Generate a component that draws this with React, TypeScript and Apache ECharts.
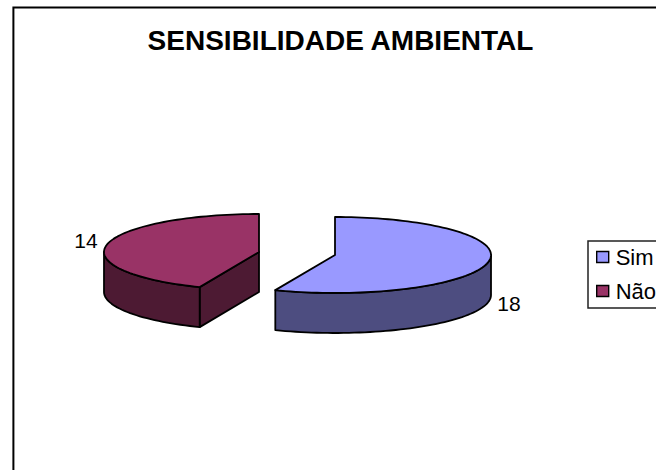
import React, { useEffect, useRef } from "react";
import * as echarts from "echarts";

const titleText = "SENSIBILIDADE AMBIENTAL";
const categories = ["Sim", "Não"];
const values = [18, 14];
const topColors = ["#9999ff", "#993366"];
const sideColors = ["#4d4d80", "#4d1a33"];

const FONT = '"Liberation Sans", Arial, sans-serif';
const RY = 38;
const DEPTH = 40;
const radiiX = [156, 155];
const centers = [
  [335, 255],
  [259, 252],
];
const labelPos = [
  [509, 303.5],
  [86, 240],
];

function point(c: number[], rx: number, deg: number, dy = 0) {
  const r = (deg * Math.PI) / 180;
  return [c[0] + rx * Math.sin(r), c[1] - RY * Math.cos(r) + dy];
}

function arc(c: number[], rx: number, from: number, to: number, dy = 0) {
  const pts: number[][] = [];
  const n = Math.max(2, Math.ceil(Math.abs(to - from) / 2));
  for (let i = 0; i <= n; i++) pts.push(point(c, rx, from + ((to - from) * i) / n, dy));
  return pts;
}

function sliceRenderer(index: number) {
  const total = values.reduce((a, b) => a + b, 0);
  let before = 0;
  for (let i = 0; i < index; i++) before += values[i];
  const start = (before / total) * 360;
  const end = ((before + values[index]) / total) * 360;
  const c = centers[index];
  const rx = radiiX[index];
  const line = { stroke: "#000", lineWidth: 1.8, lineJoin: "round" };
  return () => {
    const children: any[] = [];
    const wall = (pts: number[][]) =>
      children.push({
        type: "polygon",
        shape: { points: pts },
        style: { fill: sideColors[index], ...line },
      });
    if (start > 180 && start < 360) {
      const p = point(c, rx, start);
      wall([c, p, [p[0], p[1] + DEPTH], [c[0], c[1] + DEPTH]]);
    }
    if (end > 0 && end < 180) {
      const p = point(c, rx, end);
      wall([c, p, [p[0], p[1] + DEPTH], [c[0], c[1] + DEPTH]]);
    }
    const from = Math.max(start, 90);
    const to = Math.min(end, 270);
    if (to > from) {
      wall([...arc(c, rx, from, to), ...arc(c, rx, to, from, DEPTH)]);
    }
    children.push({
      type: "polygon",
      shape: { points: [c, ...arc(c, rx, start, end)] },
      style: { fill: topColors[index], ...line },
    });
    children.push({
      type: "text",
      style: {
        x: labelPos[index][0],
        y: labelPos[index][1],
        text: String(values[index]),
        fill: "#000",
        font: `21px ${FONT}`,
        align: "center",
        verticalAlign: "middle",
      },
    });
    return { type: "group", children };
  };
}

export default function App() {
  const ref = useRef<HTMLDivElement>(null);
  useEffect(() => {
    const chart = echarts.init(ref.current!, null, { renderer: "svg" });
    chart.setOption({
      animation: false,
      backgroundColor: "#fff",
      title: {
        text: titleText,
        left: 335.5,
        top: 21,
        textAlign: "center",
        textStyle: { fontFamily: FONT, fontSize: 28, fontWeight: "bold", color: "#000" },
      },
      legend: {
        left: 588,
        top: 241,
        orient: "vertical",
        data: categories,
        icon: "rect",
        itemWidth: 12,
        itemHeight: 11,
        itemGap: 12,
        padding: [5, 30, 6, 8],
        borderColor: "#222",
        borderWidth: 1.5,
        itemStyle: { borderColor: "#000", borderWidth: 1.4 },
        textStyle: { fontFamily: FONT, fontSize: 22, color: "#000", padding: [0, 0, 0, 2] },
      },
      graphic: [
        {
          type: "polyline",
          silent: true,
          shape: { points: [[13.4, 480], [13.4, 7.5], [670, 7.5]] },
          style: { fill: "none", stroke: "#000", lineWidth: 2 },
        },
      ],
      series: categories.map((name, i) => ({
        type: "custom",
        name,
        coordinateSystem: "none",
        data: [values[i]],
        itemStyle: { color: topColors[i] },
        renderItem: sliceRenderer(i),
        silent: true,
      })),
    });
    return () => chart.dispose();
  }, []);
  return (
    <div
      ref={ref}
      style={{ position: "fixed", left: 0, top: 0, width: 656, height: 470 }}
    />
  );
}
